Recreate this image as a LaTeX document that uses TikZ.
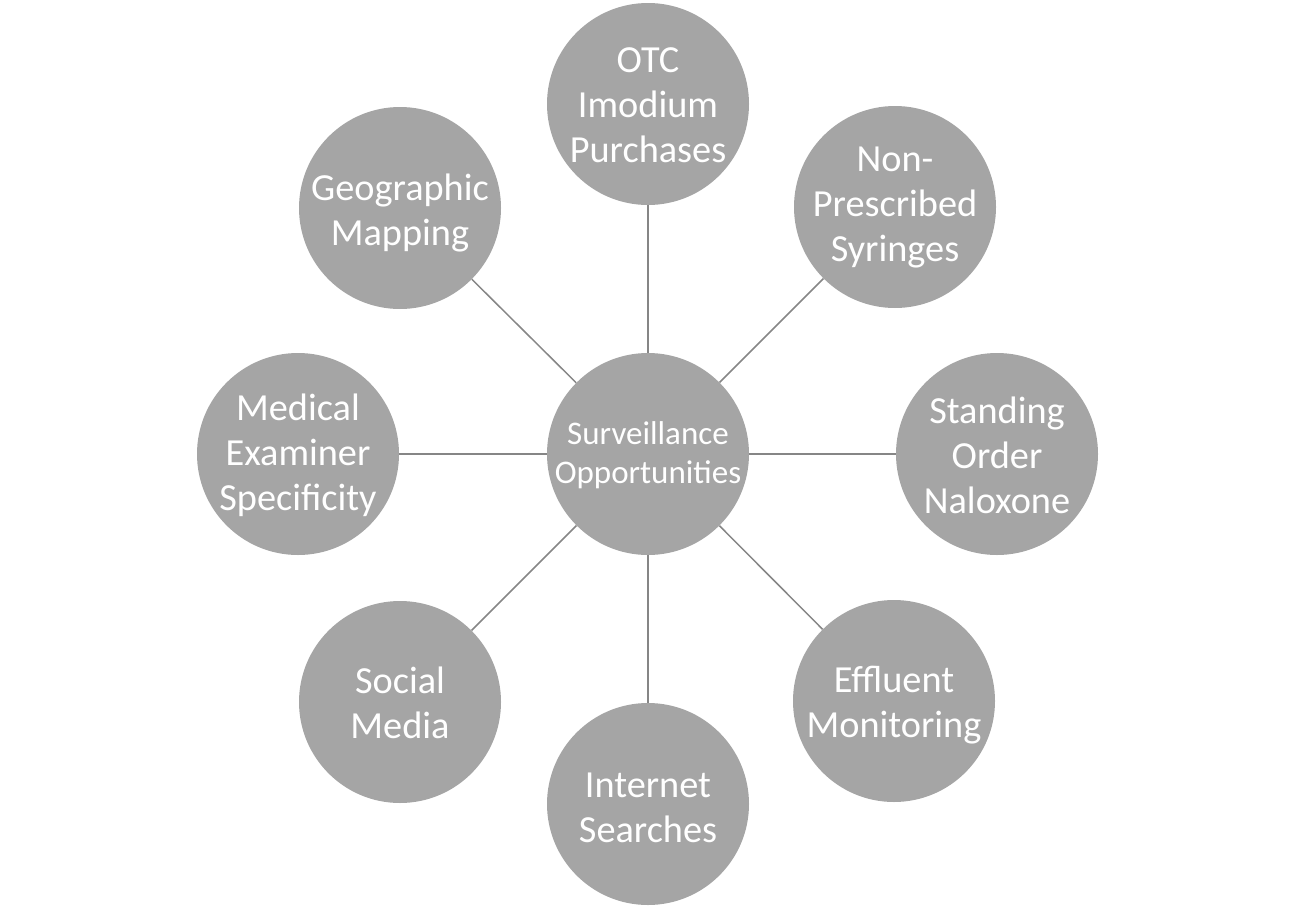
\documentclass[tikz,border=0pt]{standalone}
\usepackage{fontspec}
\setmainfont{Carlito}
\definecolor{circfill}{HTML}{A5A5A5}
\definecolor{linkcol}{HTML}{868686}
\tikzset{
  bubble/.style={circle, fill=circfill, draw=none, minimum size=202pt, inner sep=0pt},
  txt/.style={text=white, align=center, inner sep=0pt, font=\fontsize{38.3}{45}\selectfont},
  hubtxt/.style={txt, font=\fontsize{33}{39}\selectfont},
  link/.style={draw=linkcol, line width=1.5pt}
}
\begin{document}
\begin{tikzpicture}[x=1pt,y=-1pt]
\useasboundingbox (0,0) rectangle (1295,910);
\node[bubble, label={[hubtxt,name=lc,yshift=-1pt]center:Surveillance\\Opportunities}] (c) at (648,454) {};
\node[bubble, label={[txt,name=ln,yshift=-1pt]center:OTC\\Imodium\\Purchases}] (n) at (648,104) {};
\node[bubble, label={[txt,name=lne,yshift=-1pt]center:Non-\\Prescribed\\Syringes}] (ne) at (895,207) {};
\node[bubble, label={[txt,name=le,yshift=-1pt]center:Standing\\Order\\Naloxone}] (e) at (997,454) {};
\node[bubble, label={[txt,name=lse,yshift=-4pt]center:Effluent\\Monitoring}] (se) at (894,701) {};
\node[bubble, label={[txt,name=ls,yshift=-4pt]center:Internet\\Searches}] (s) at (648,804) {};
\node[bubble, label={[txt,name=lsw,yshift=-1pt]center:Social\\Media}] (sw) at (400,702) {};
\node[bubble, label={[txt,name=lw,yshift=-1pt]center:Medical\\Examiner\\Specificity}] (w) at (298,454) {};
\node[bubble, label={[txt,name=lnw,yshift=-5pt]center:Geographic\\Mapping}] (nw) at (400,208) {};
\foreach \t in {n,ne,e,se,s,sw,w,nw}{
  \draw[link] (c) -- (\t);
}
\end{tikzpicture}
\end{document}
